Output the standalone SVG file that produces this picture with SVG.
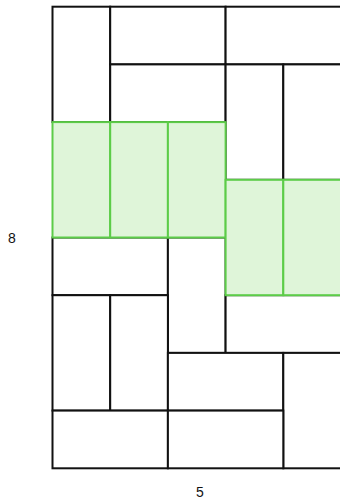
<svg xmlns="http://www.w3.org/2000/svg" width="340" height="499" viewBox="0 0 340 499">
<style>
.t{fill:#ffffff;stroke:#111111;stroke-width:2}
.g{fill:#dff5d9;stroke:#5ccc48;stroke-width:2}
.l{font-family:"Liberation Sans",Arial,sans-serif;font-size:14px;fill:#111111;text-anchor:middle}
</style>
<g id="tiles">
<rect id="t1" class="t" x="52.5" y="6.7" width="57.7" height="115.4"/>
<rect id="t2" class="t" x="110.2" y="6.7" width="115.4" height="57.7"/>
<rect id="t3" class="t" x="225.6" y="6.7" width="115.4" height="57.7"/>
<rect id="t4" class="t" x="110.2" y="64.4" width="115.4" height="57.7"/>
<rect id="t5" class="t" x="225.6" y="64.4" width="57.7" height="115.4"/>
<rect id="t6" class="t" x="283.3" y="64.4" width="57.7" height="115.4"/>
<rect id="t7" class="t" x="52.5" y="237.5" width="115.4" height="57.7"/>
<rect id="t8" class="t" x="167.9" y="237.5" width="57.7" height="115.4"/>
<rect id="t9" class="t" x="52.5" y="295.2" width="57.7" height="115.4"/>
<rect id="t10" class="t" x="110.2" y="295.2" width="57.7" height="115.4"/>
<rect id="t11" class="t" x="225.6" y="295.2" width="115.4" height="57.7"/>
<rect id="t12" class="t" x="167.9" y="352.9" width="115.4" height="57.7"/>
<rect id="t13" class="t" x="283.3" y="352.9" width="57.7" height="115.4"/>
<rect id="t14" class="t" x="52.5" y="410.6" width="115.4" height="57.7"/>
<rect id="t15" class="t" x="167.9" y="410.6" width="115.4" height="57.7"/>
</g>
<g id="highlight">
<rect id="g1" class="g" x="52.5" y="122.1" width="57.7" height="115.4"/>
<rect id="g2" class="g" x="110.2" y="122.1" width="57.7" height="115.4"/>
<rect id="g3" class="g" x="167.9" y="122.1" width="57.7" height="115.4"/>
<rect id="g4" class="g" x="225.6" y="179.8" width="57.7" height="115.4"/>
<rect id="g5" class="g" x="283.3" y="179.8" width="57.7" height="115.4"/>
</g>
<g id="labels">
<text class="l" x="12" y="243">8</text>
<text class="l" x="200" y="497">5</text>
</g>
</svg>
